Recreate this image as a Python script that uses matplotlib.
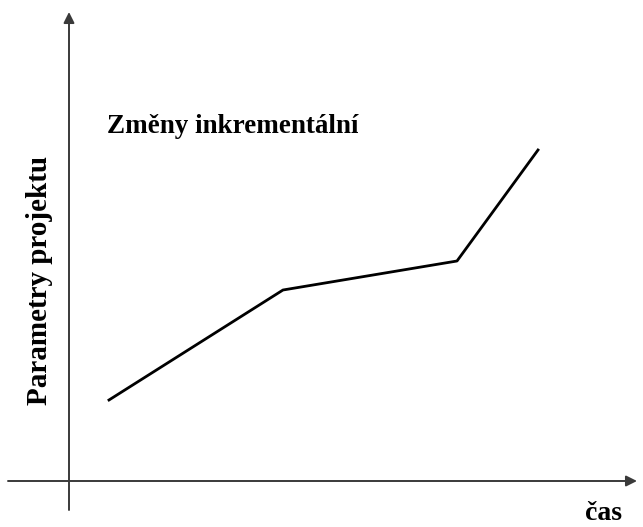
import matplotlib
matplotlib.use('Agg')
import matplotlib.pyplot as plt

# data (arbitrary units, origin at axis crossing)
cas = [4.0, 21.4, 38.8, 46.9]
parametry = [8.1, 19.1, 22.0, 33.1]

plt.rcParams['font.family'] = ['Liberation Serif', 'DejaVu Serif']

fig = plt.figure(figsize=(6.43, 5.27), dpi=100)
ax = fig.add_axes([0, 0, 1, 1])
ax.set_xlim(-6.9, 57.4)
ax.set_ylim(-4.6, 48.1)
ax.axis('off')

# axes with arrows
arr = dict(arrowstyle='-|>', color='#3a3a3a', lw=1.4, mutation_scale=16, shrinkA=0, shrinkB=0)
ax.annotate('', xy=(0, 46.9), xytext=(0, -2.9), arrowprops=arr)
ax.annotate('', xy=(56.8, 0), xytext=(-6.1, 0), arrowprops=arr)

ax.plot(cas, parametry, color='black', lw=2)

ax.text(3.8, 34.8, 'Změny inkrementální', fontsize=19.5, fontweight='bold', va='baseline')
ax.text(51.6, -3.9, 'čas', fontsize=20, fontweight='bold', va='baseline')
ax.text(-2.9, 20.1, 'Parametry projektu', fontsize=21, fontweight='bold',
        rotation=90, ha='center', va='center')

fig.savefig('out.png', dpi=100)
